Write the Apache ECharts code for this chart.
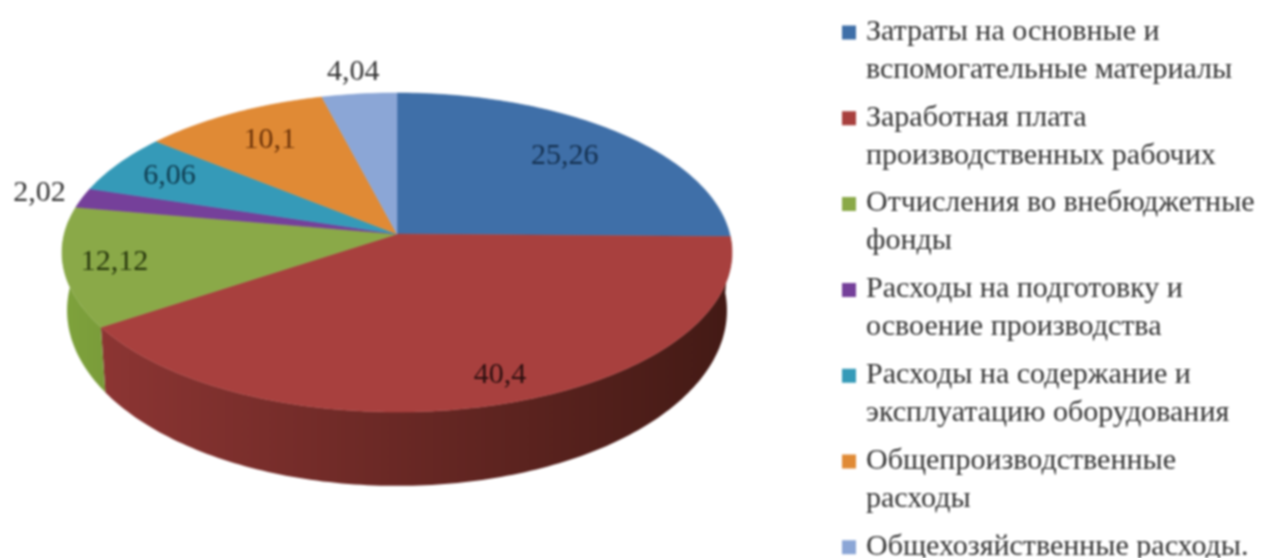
<!DOCTYPE html>
<html><head><meta charset="utf-8">
<style>html,body{margin:0;padding:0;background:#fff}#c{width:1267px;height:558px;filter:blur(0.9px)}</style>
<script src="https://cdn.jsdelivr.net/npm/echarts@6/dist/echarts.min.js"></script>
</head><body><div id="c"></div>
<script>
const categories = [
  'Затраты на основные и\nвспомогательные материалы',
  'Заработная плата\nпроизводственных рабочих',
  'Отчисления во внебюджетные\nфонды',
  'Расходы на подготовку и\nосвоение производства',
  'Расходы на содержание и\nэксплуатацию оборудования',
  'Общепроизводственные\nрасходы',
  'Общехозяйственные расходы.'
];
const values = [25.26, 40.4, 12.12, 2.02, 6.06, 10.1, 4.04];
const colors = ['#3f6fa8', '#a8403e', '#8aa948', '#75409a', '#359ab8', '#e08a35', '#8ba6d6'];
const labelColors = ['#14304f', '#2b0f0f', '#26360c', '#333333', '#0f3c50', '#6b3208', '#333333'];
const wallColors = [null, ['#8c3533', '#431a15'], ['#7ea23c', '#7a9c3a'], null, null, null, null];
const labelRadius = [0.75, 0.86, 0.85, 1.14, 0.81, 0.76, 1.18];
const labelAngleShift = [0, -2.7, 0, 0, 0, 0, 0];

const total = values.reduce((a, b) => a + b, 0);
const starts = [];
values.reduce((acc, v, i) => { starts[i] = acc; return acc + v; }, 0);
const toDeg = v => v / total * 360;

const CX = 397, CY = 234, A = 332.7, B = 157.4, K = 0.116;
const WALL_CY = 290, WALL_SX = 0.985, WALL_SY = 1.10;
function proj(deg, r) {
  const t = deg * Math.PI / 180, u = r * Math.sin(t), v = -r * Math.cos(t), w = 1 - K * v;
  return [A * u / w, B * v / w];
}
const topPt = (d, r = 1) => { const p = proj(d, r); return [CX + p[0], CY + p[1]]; };
const botPt = d => { const p = proj(d, 1); return [CX + p[0] * WALL_SX, WALL_CY + p[1] * WALL_SY]; };
function arc(a, b, fn) {
  const n = Math.max(2, Math.ceil(Math.abs(b - a))), pts = [];
  for (let i = 0; i <= n; i++) pts.push(fn(a + (b - a) * i / n));
  return pts;
}
const WALL_FROM = 90, WALL_TO = 275;

function makeRender(i) {
  return function (params, api) {
    const value = api.value(0);
    const a = toDeg(starts[i]), b = a + toDeg(value);
    const children = [];
    const wa = Math.max(a, WALL_FROM), wb = Math.min(b, WALL_TO);
    if (wb > wa && wallColors[i]) {
      const pts = arc(wa, wb, topPt).concat(arc(wb, wa, botPt));
      children.push({
        type: 'polygon', z2: 1, shape: { points: pts },
        style: { fill: new echarts.graphic.LinearGradient(0, 0, 1, 0, [
          { offset: 0, color: wallColors[i][0] }, { offset: 1, color: wallColors[i][1] }
        ]) }
      });
    }
    children.push({
      type: 'polygon', z2: 5, shape: { points: [[CX, CY]].concat(arc(a, b, topPt)) },
      style: { fill: colors[i], stroke: colors[i], lineWidth: 0.6 }
    });
    const lp = topPt((a + b) / 2 + labelAngleShift[i], labelRadius[i]);
    children.push({
      type: 'text', z2: 10, x: lp[0], y: lp[1],
      style: {
        text: String(value).replace('.', ','), fill: labelColors[i],
        font: '30px "Liberation Serif"', align: 'center', verticalAlign: 'middle'
      }
    });
    return { type: 'group', children };
  };
}

const chart = echarts.init(document.getElementById('c'), null, { renderer: 'canvas' });
chart.setOption({
  animation: false,
  backgroundColor: '#ffffff',
  legend: {
    orient: 'vertical', left: 842, top: 13, height: 640, padding: 0,
    itemGap: 9.8, itemWidth: 19, itemHeight: 76, selectedMode: false,
    icon: 'path://M0 0L0 0ZM19 76L19 76ZM0 12.5H14V26.5H0Z',
    formatter: n => n.includes('\n') ? n : n + '\n ',
    textStyle: { fontFamily: 'Liberation Serif', fontSize: 30, lineHeight: 38, color: '#333333' },
    data: categories
  },
  series: categories.map((name, i) => ({
    type: 'custom', name, coordinateSystem: 'none',
    itemStyle: { color: colors[i] },
    renderItem: makeRender(i), data: [values[i]], silent: true
  }))
});
</script></body></html>
